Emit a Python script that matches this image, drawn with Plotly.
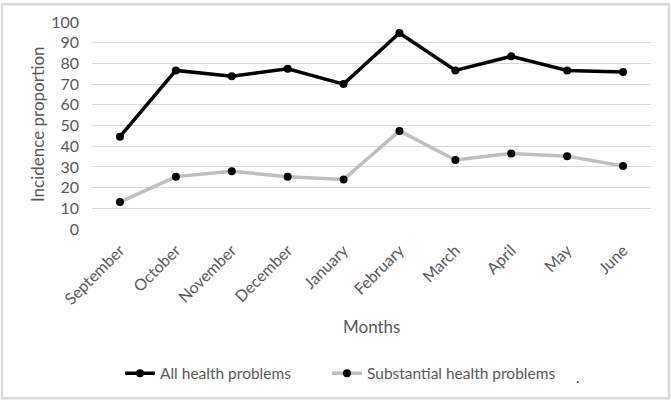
import plotly.graph_objects as go

months = ["September", "October", "November", "December", "January",
          "February", "March", "April", "May", "June"]
all_problems = [44.6, 76.6, 73.8, 77.4, 70.0, 94.7, 76.6, 83.4, 76.6, 75.9]
substantial_problems = [13.0, 25.3, 27.9, 25.3, 23.9, 47.4, 33.3, 36.5, 35.2, 30.4]

font_family = "Lato, Open Sans, sans-serif"
grey_text = "#595959"

fig = go.Figure()
fig.add_trace(go.Scatter(
    x=months, y=all_problems, name="All health problems",
    mode="lines+markers",
    line=dict(color="#000000", width=3.5),
    marker=dict(color="#000000", size=8),
    legend="legend",
))
fig.add_trace(go.Scatter(
    x=months, y=substantial_problems, name="Substantial health problems",
    mode="lines+markers",
    line=dict(color="#bfbfbf", width=3.5),
    marker=dict(color="#000000", size=8),
    legend="legend2",
))

legend_common = dict(orientation="h", xanchor="left", yanchor="middle",
                     y=(229 - 375) / 209, font=dict(size=15.5, color=grey_text),
                     itemwidth=30, bgcolor="rgba(0,0,0,0)")

fig.update_layout(
    width=671, height=402,
    margin=dict(l=92, r=20, t=20, b=173),
    paper_bgcolor="white", plot_bgcolor="white",
    font=dict(family=font_family, color=grey_text, size=16),
    showlegend=True,
    legend=dict(x=(120 - 92) / 559, **legend_common),
    legend2=dict(x=(327 - 92) / 559, **legend_common),
    xaxis=dict(
        type="category", tickangle=-45, showgrid=False, zeroline=False,
        showline=False, ticks="", tickfont=dict(size=16, color=grey_text),
        range=[-0.5, 9.5], ticklabelstandoff=8,
    ),
    yaxis=dict(
        range=[0, 100], dtick=10, showgrid=True, gridcolor="#d9d9d9",
        gridwidth=1, zeroline=False, showline=False, ticks="",
        tickfont=dict(size=16, color=grey_text),
        ticklabelstandoff=12,
    ),
    annotations=[
        dict(text="Months", xref="paper", yref="paper", x=(371 - 92) / 559,
             y=(229 - 327) / 209,
             showarrow=False, font=dict(size=17, color=grey_text),
             xanchor="center", yanchor="middle"),
        dict(text="Incidence proportion", xref="paper", yref="paper",
             x=(37 - 92) / 559, y=(229 - 123) / 209, textangle=-90, showarrow=False,
             font=dict(size=17, color=grey_text),
             xanchor="center", yanchor="middle"),
        dict(text=".", xref="paper", yref="paper", x=(577 - 92) / 559,
             y=(229 - 379) / 209, showarrow=False,
             font=dict(size=14, color="#333333"),
             xanchor="center", yanchor="middle"),
    ],
    shapes=[dict(type="rect", xref="paper", yref="paper",
                 x0=-90.0 / 559, x1=1 + 18.0 / 559, y0=-171.0 / 209, y1=1 + 18.0 / 209,
                 line=dict(color="#d9d9d9", width=2.5))],
)

fig.write_html("out.html", config={"displayModeBar": False},
               post_script="document.body.style.margin='0';")
